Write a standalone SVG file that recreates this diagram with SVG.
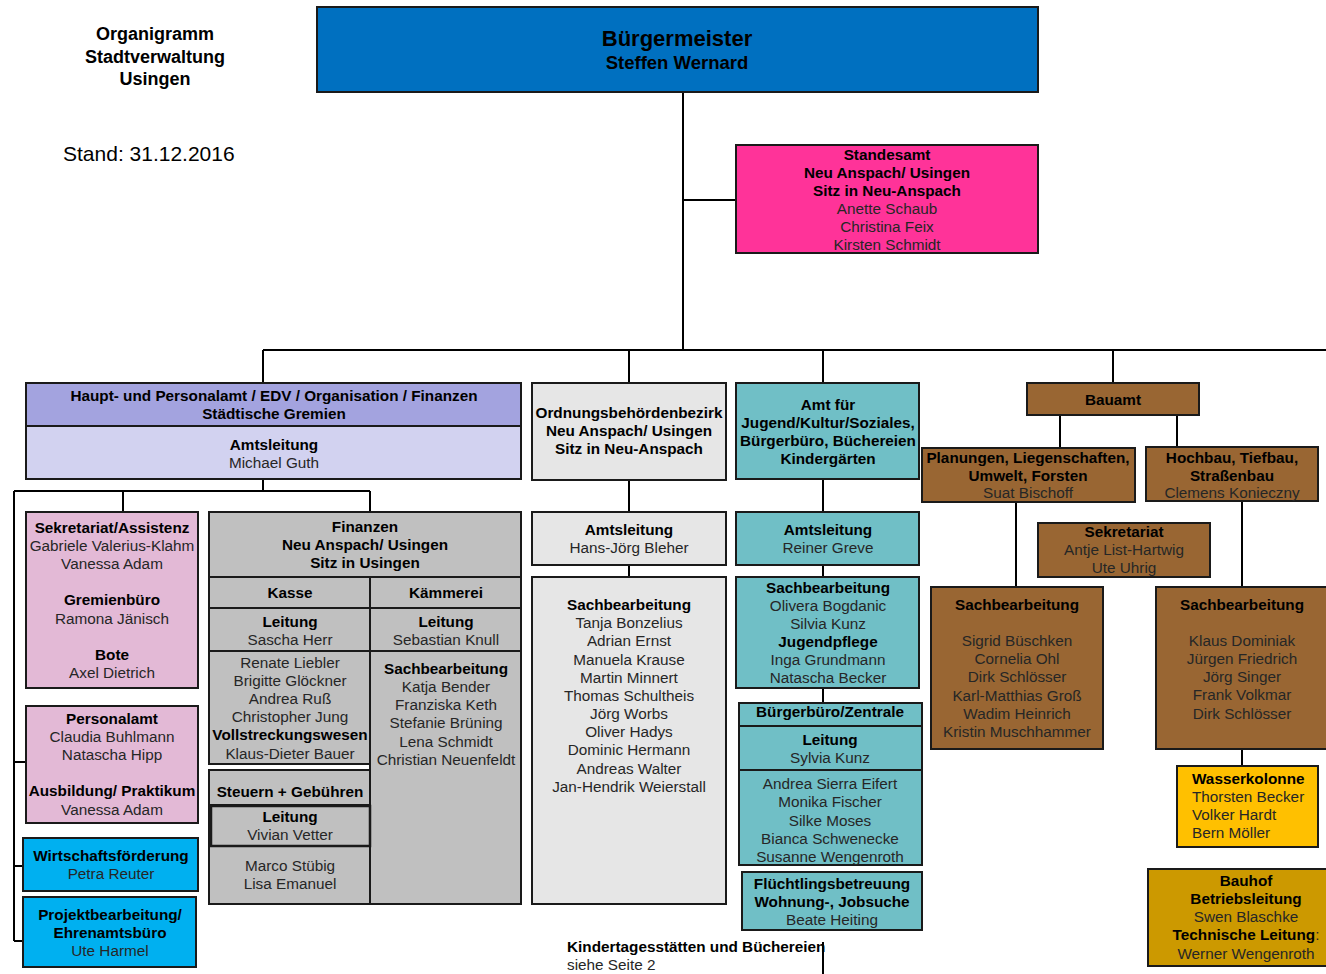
<svg xmlns="http://www.w3.org/2000/svg" width="1326" height="974" viewBox="0 0 1326 974">
<style>
.b{stroke:#1a1a1a;stroke-width:2}
.t{font-family:"Liberation Sans",Arial,sans-serif;font-size:15.3px;text-anchor:middle;fill:#262626}
.h{font-weight:bold;fill:#000}
.l{text-anchor:start}
.c{stroke:#000;stroke-width:2;fill:none}
.bm{fill:#0070C0}.sa{fill:#FF3399}.hp1{fill:#A3A3DF}.hp2{fill:#D2D2F0}.pk{fill:#E3B9D6}.cy{fill:#00B0F0}
.gr{fill:#C0C0C0}.lg{fill:#E6E6E6}.tl{fill:#70BFC6}.br{fill:#996633}.ye{fill:#FFC000}.go{fill:#CC9900}
</style>
<rect width="1326" height="974" fill="#fff"/>
<g id="connectors">
<path class="c" d="M683 92V350M683 200H736M263 350H1326M263 350V383M629 350V383M823 350V383M1113 350V383"/>
<path class="c" d="M263 479V491M14 491H370M123 491V512M370 491V512M14 491V941M14 762H26M14 866H23M14 941H23"/>
<path class="c" d="M629 480V512M629 565V577"/>
<path class="c" d="M823 479V512M823 565V577M823 688V703M823 942V974"/>
<path class="c" d="M1060 415V458M1177 415V447M1016 502V587M1242 501V587M1242 749V766"/>
</g>
<g id="title">
<text class="t h" x="155" y="40" style="font-size:18px">Organigramm</text>
<text class="t h" x="155" y="63" style="font-size:18px">Stadtverwaltung</text>
<text class="t h" x="155" y="85" style="font-size:18px">Usingen</text>
<text class="t l" x="63" y="161" style="font-size:21px;fill:#000">Stand: 31.12.2016</text>
</g>
<g id="buergermeister">
<rect class="b bm" x="317" y="7" width="721" height="85"/>
<text class="t h" x="677" y="46" style="font-size:22px">Bürgermeister</text>
<text class="t h" x="677" y="69" style="font-size:18.5px">Steffen Wernard</text>
</g>
<g id="standesamt">
<rect class="b sa" x="736" y="145" width="302" height="108"/>
<text class="t h" x="887" y="160">Standesamt</text>
<text class="t h" x="887" y="178">Neu Anspach/ Usingen</text>
<text class="t h" x="887" y="196">Sitz in Neu-Anspach</text>
<text class="t" x="887" y="214">Anette Schaub</text>
<text class="t" x="887" y="232">Christina Feix</text>
<text class="t" x="887" y="250">Kirsten Schmidt</text>
</g>
<g id="hauptamt">
<rect class="b hp1" x="26" y="383" width="495" height="43"/>
<rect class="b hp2" x="26" y="426" width="495" height="53"/>
<text class="t h" x="274" y="401">Haupt- und Personalamt / EDV / Organisation / Finanzen</text>
<text class="t h" x="274" y="419">Städtische Gremien</text>
<text class="t h" x="274" y="450">Amtsleitung</text>
<text class="t" x="274" y="468">Michael Guth</text>
</g>
<g id="sekretariat">
<rect class="b pk" x="26" y="512" width="172" height="176"/>
<text class="t h" x="112" y="533">Sekretariat/Assistenz</text>
<text class="t" x="112" y="551">Gabriele Valerius-Klahm</text>
<text class="t" x="112" y="569">Vanessa Adam</text>
<text class="t h" x="112" y="605">Gremienbüro</text>
<text class="t" x="112" y="624">Ramona Jänisch</text>
<text class="t h" x="112" y="660">Bote</text>
<text class="t" x="112" y="678">Axel Dietrich</text>
</g>
<g id="personalamt">
<rect class="b pk" x="26" y="706" width="172" height="117"/>
<text class="t h" x="112" y="724">Personalamt</text>
<text class="t" x="112" y="742">Claudia Buhlmann</text>
<text class="t" x="112" y="760">Natascha Hipp</text>
<text class="t h" x="112" y="796">Ausbildung/ Praktikum</text>
<text class="t" x="112" y="815">Vanessa Adam</text>
</g>
<g id="wirtschaft">
<rect class="b cy" x="23" y="838" width="175" height="53"/>
<text class="t h" x="111" y="861">Wirtschaftsförderung</text>
<text class="t" x="111" y="879">Petra Reuter</text>
</g>
<g id="projekt">
<rect class="b cy" x="23" y="897" width="173" height="70"/>
<text class="t h" x="110" y="920">Projektbearbeitung/</text>
<text class="t h" x="110" y="938">Ehrenamtsbüro</text>
<text class="t" x="110" y="956">Ute Harmel</text>
</g>
<g id="finanzen">
<rect class="b gr" x="209" y="512" width="312" height="65"/>
<text class="t h" x="365" y="532">Finanzen</text>
<text class="t h" x="365" y="550">Neu Anspach/ Usingen</text>
<text class="t h" x="365" y="568">Sitz in Usingen</text>
<rect class="b gr" x="209" y="577" width="161" height="31"/>
<rect class="b gr" x="370" y="577" width="151" height="31"/>
<text class="t h" x="290" y="598">Kasse</text>
<text class="t h" x="446" y="598">Kämmerei</text>
<rect class="b gr" x="209" y="608" width="161" height="43"/>
<rect class="b gr" x="370" y="608" width="151" height="43"/>
<text class="t h" x="290" y="627">Leitung</text>
<text class="t" x="290" y="645">Sascha Herr</text>
<text class="t h" x="446" y="627">Leitung</text>
<text class="t" x="446" y="645">Sebastian Knull</text>
<rect class="b gr" x="209" y="651" width="161" height="113"/>
<text class="t" x="290" y="668">Renate Liebler</text>
<text class="t" x="290" y="686">Brigitte Glöckner</text>
<text class="t" x="290" y="704">Andrea Ruß</text>
<text class="t" x="290" y="722">Christopher Jung</text>
<text class="t h" x="290" y="740">Vollstreckungswesen</text>
<text class="t" x="290" y="759">Klaus-Dieter Bauer</text>
<rect class="b gr" x="370" y="651" width="151" height="253"/>
<text class="t h" x="446" y="674">Sachbearbeitung</text>
<text class="t" x="446" y="692">Katja Bender</text>
<text class="t" x="446" y="710">Franziska Keth</text>
<text class="t" x="446" y="728">Stefanie Brüning</text>
<text class="t" x="446" y="747">Lena Schmidt</text>
<text class="t" x="446" y="765">Christian Neuenfeldt</text>
<rect class="b gr" x="209" y="770" width="161" height="134"/>
<line class="b" x1="209" y1="805" x2="370" y2="805"/>
<text class="t h" x="290" y="797">Steuern + Gebühren</text>
<rect class="b gr" x="211" y="806" width="159" height="40" style="stroke-width:2.5"/>
<text class="t h" x="290" y="822">Leitung</text>
<text class="t" x="290" y="840">Vivian Vetter</text>
<text class="t" x="290" y="871">Marco Stübig</text>
<text class="t" x="290" y="889">Lisa Emanuel</text>
</g>
<g id="ordnung">
<rect class="b lg" x="532" y="383" width="194" height="97"/>
<text class="t h" x="629" y="418">Ordnungsbehördenbezirk</text>
<text class="t h" x="629" y="436">Neu Anspach/ Usingen</text>
<text class="t h" x="629" y="454">Sitz in Neu-Anspach</text>
</g>
<g id="ordnung-leitung">
<rect class="b lg" x="532" y="512" width="194" height="53"/>
<text class="t h" x="629" y="535">Amtsleitung</text>
<text class="t" x="629" y="553">Hans-Jörg Bleher</text>
</g>
<g id="ordnung-sach">
<rect class="b lg" x="532" y="577" width="194" height="327"/>
<text class="t h" x="629" y="610">Sachbearbeitung</text>
<text class="t" x="629" y="628">Tanja Bonzelius</text>
<text class="t" x="629" y="646">Adrian Ernst</text>
<text class="t" x="629" y="665">Manuela Krause</text>
<text class="t" x="629" y="683">Martin Minnert</text>
<text class="t" x="629" y="701">Thomas Schultheis</text>
<text class="t" x="629" y="719">Jörg Worbs</text>
<text class="t" x="629" y="737">Oliver Hadys</text>
<text class="t" x="629" y="755">Dominic Hermann</text>
<text class="t" x="629" y="774">Andreas Walter</text>
<text class="t" x="629" y="792">Jan-Hendrik Weierstall</text>
</g>
<g id="jugend">
<rect class="b tl" x="736" y="383" width="183" height="96"/>
<text class="t h" x="828" y="410">Amt für</text>
<text class="t h" x="828" y="428">Jugend/Kultur/Soziales,</text>
<text class="t h" x="828" y="446">Bürgerbüro, Büchereien</text>
<text class="t h" x="828" y="464">Kindergärten</text>
</g>
<g id="jugend-leitung">
<rect class="b tl" x="736" y="512" width="183" height="53"/>
<text class="t h" x="828" y="535">Amtsleitung</text>
<text class="t" x="828" y="553">Reiner Greve</text>
</g>
<g id="jugend-sach">
<rect class="b tl" x="736" y="577" width="183" height="111"/>
<text class="t h" x="828" y="593">Sachbearbeitung</text>
<text class="t" x="828" y="611">Olivera Bogdanic</text>
<text class="t" x="828" y="629">Silvia Kunz</text>
<text class="t h" x="828" y="647">Jugendpflege</text>
<text class="t" x="828" y="665">Inga Grundmann</text>
<text class="t" x="828" y="683">Natascha Becker</text>
</g>
<g id="buergerbuero">
<rect class="b tl" x="739" y="703" width="183" height="162"/>
<line class="b" x1="739" y1="726" x2="922" y2="726"/>
<line class="b" x1="739" y1="770" x2="922" y2="770"/>
<text class="t h" x="830" y="717">Bürgerbüro/Zentrale</text>
<text class="t h" x="830" y="745">Leitung</text>
<text class="t" x="830" y="763">Sylvia Kunz</text>
<text class="t" x="830" y="789">Andrea Sierra Eifert</text>
<text class="t" x="830" y="807">Monika Fischer</text>
<text class="t" x="830" y="826">Silke Moses</text>
<text class="t" x="830" y="844">Bianca Schwenecke</text>
<text class="t" x="830" y="862">Susanne Wengenroth</text>
</g>
<g id="fluechtling">
<rect class="b tl" x="742" y="872" width="180" height="58"/>
<text class="t h" x="832" y="889">Flüchtlingsbetreuung</text>
<text class="t h" x="832" y="907">Wohnung-, Jobsuche</text>
<text class="t" x="832" y="925">Beate Heiting</text>
</g>
<g id="kita-note">
<text class="t h l" x="567" y="952">Kindertagesstätten und Büchereien</text>
<text class="t l" x="567" y="970">siehe Seite 2</text>
</g>
<g id="bauamt">
<rect class="b br" x="1027" y="383" width="172" height="32"/>
<text class="t h" x="1113" y="405">Bauamt</text>
</g>
<g id="planungen">
<rect class="b br" x="922" y="448" width="213" height="54"/>
<text class="t h" x="1028" y="463">Planungen, Liegenschaften,</text>
<text class="t h" x="1028" y="481">Umwelt, Forsten</text>
<text class="t" x="1028" y="498">Suat Bischoff</text>
</g>
<g id="hochbau">
<rect class="b br" x="1146" y="447" width="172" height="54"/>
<text class="t h" x="1232" y="463">Hochbau, Tiefbau,</text>
<text class="t h" x="1232" y="481">Straßenbau</text>
<text class="t" x="1232" y="498">Clemens Konieczny</text>
</g>
<g id="bau-sekretariat">
<rect class="b br" x="1038" y="523" width="172" height="54"/>
<text class="t h" x="1124" y="537">Sekretariat</text>
<text class="t" x="1124" y="555">Antje List-Hartwig</text>
<text class="t" x="1124" y="573">Ute Uhrig</text>
</g>
<g id="bau-sach-links">
<rect class="b br" x="931" y="587" width="172" height="162"/>
<text class="t h" x="1017" y="610">Sachbearbeitung</text>
<text class="t" x="1017" y="646">Sigrid Büschken</text>
<text class="t" x="1017" y="664">Cornelia Ohl</text>
<text class="t" x="1017" y="682">Dirk Schlösser</text>
<text class="t" x="1017" y="701">Karl-Matthias Groß</text>
<text class="t" x="1017" y="719">Wadim Heinrich</text>
<text class="t" x="1017" y="737">Kristin Muschhammer</text>
</g>
<g id="bau-sach-rechts">
<rect class="b br" x="1156" y="587" width="180" height="162"/>
<text class="t h" x="1242" y="610">Sachbearbeitung</text>
<text class="t" x="1242" y="646">Klaus Dominiak</text>
<text class="t" x="1242" y="664">Jürgen Friedrich</text>
<text class="t" x="1242" y="682">Jörg Singer</text>
<text class="t" x="1242" y="700">Frank Volkmar</text>
<text class="t" x="1242" y="719">Dirk Schlösser</text>
</g>
<g id="wasserkolonne">
<rect class="b ye" x="1177" y="766" width="141" height="81"/>
<text class="t h l" x="1192" y="784">Wasserkolonne</text>
<text class="t l" x="1192" y="802">Thorsten Becker</text>
<text class="t l" x="1192" y="820">Volker Hardt</text>
<text class="t l" x="1192" y="838">Bern Möller</text>
</g>
<g id="bauhof">
<rect class="b go" x="1148" y="869" width="188" height="97"/>
<text class="t h" x="1246" y="886">Bauhof</text>
<text class="t h" x="1246" y="904">Betriebsleitung</text>
<text class="t" x="1246" y="922">Swen Blaschke</text>
<text class="t" x="1246" y="940"><tspan class="h">Technische Leitung</tspan>:</text>
<text class="t" x="1246" y="959">Werner Wengenroth</text>
</g>
</svg>
